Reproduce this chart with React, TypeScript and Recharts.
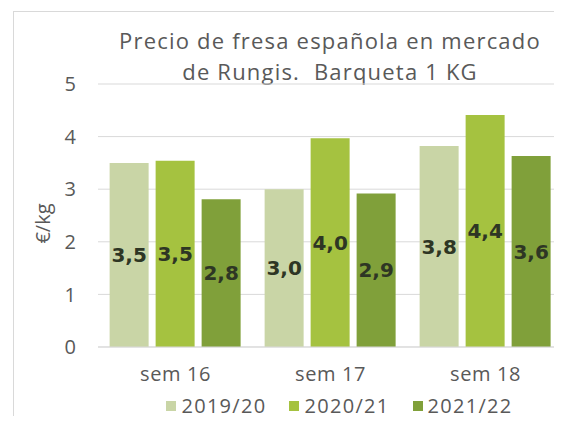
import React from 'react';
import { BarChart, Bar, XAxis, YAxis, CartesianGrid, Legend, LabelList, Label } from 'recharts';

const weeks = ['sem 16', 'sem 17', 'sem 18'];
const season1920 = [3.5, 3.0, 3.82];
const season2021 = [3.54, 3.97, 4.41];
const season2122 = [2.81, 2.92, 3.63];
const yTicks = [0, 1, 2, 3, 4, 5];

const seriesInfo = [
  { key: 's1920', name: '2019/20', color: '#c9d5a6' },
  { key: 's2021', name: '2020/21', color: '#a5c240' },
  { key: 's2122', name: '2021/22', color: '#80a03a' },
];

const FONT = '"Open Sans", sans-serif';
const GREY = '#595959';

const formatValue = (v: any) => Number(v).toFixed(1).replace('.', ',');

// legend drawn as simple row of squares + labels
const LegendRow = ({ payload }: any) => (
  <div
    style={{
      display: 'flex',
      justifyContent: 'center',
      paddingLeft: 116,
      fontFamily: FONT,
      fontSize: 20,
      letterSpacing: 1.3,
      color: GREY,
      lineHeight: '28px',
    }}
  >
    {(payload || []).map((entry: any, index: number) => (
      <span key={index} style={{ display: 'flex', alignItems: 'center', marginRight: index < 2 ? 23 : 0 }}>
        <span
          style={{ width: 10, height: 10, background: entry.color, display: 'inline-block', marginRight: 5 }}
        />
        {entry.value}
      </span>
    ))}
  </div>
);

export default function App() {
  const data = weeks.map((w, i) => ({
    week: w,
    s1920: season1920[i],
    s2021: season2021[i],
    s2122: season2122[i],
  }));

  return (
    <div style={{ margin: -8, position: 'relative', width: 562, height: 424, overflow: 'hidden', background: '#fff' }}>
      {/* chart frame */}
      <div
        style={{
          position: 'absolute',
          left: 13,
          top: 11,
          width: 600,
          height: 500,
          borderLeft: '1px solid #d9d9d9',
          borderTop: '1px solid #d9d9d9',
        }}
      />
      <div
        style={{
          position: 'absolute',
          left: 30,
          width: 600,
          top: 25,
          textAlign: 'center',
          fontFamily: FONT,
          fontSize: 22,
          letterSpacing: 1.2,
          lineHeight: '31px',
          color: GREY,
        }}
      >
        Precio de fresa española en mercado
        <br />
        de Rungis.&nbsp; Barqueta 1 KG
      </div>
      <div style={{ position: 'absolute', left: 0, top: 0 }}>
        <BarChart
          width={570}
          height={424}
          data={data}
          margin={{ top: 84, right: 7, bottom: 0, left: 0 }}
          barCategoryGap="7.5%"
          barGap={7}
        >
          <CartesianGrid vertical={false} stroke="#d9d9d9" />
          <XAxis
            dataKey="week"
            axisLine={{ stroke: '#d9d9d9' }}
            tickLine={false}
            tickMargin={14}
            height={45}
            tick={{ fill: GREY, fontSize: 20, fontFamily: FONT, letterSpacing: 0.6 }}
          />
          <YAxis
            domain={[0, 5]}
            ticks={yTicks}
            width={98}
            axisLine={false}
            tickLine={false}
            tickSize={0}
            tickMargin={22}
            tick={{ fill: GREY, fontSize: 20, fontFamily: FONT }}
          >
            <Label
              value="€/kg"
              angle={-90}
              position="insideLeft"
              offset={43}
              dy={8}
              style={{ fill: GREY, fontSize: 20, fontFamily: FONT, textAnchor: 'middle' }}
            />
          </YAxis>
          <Legend verticalAlign="bottom" height={32} content={<LegendRow />} />
          {seriesInfo.map((s) => (
            <Bar key={s.key} dataKey={s.key} name={s.name} fill={s.color} isAnimationActive={false}>
              <LabelList
                dataKey={s.key}
                position="center"
                formatter={formatValue}
                style={{ fill: '#2e3624', fontSize: 20, fontWeight: 'bold', fontFamily: '"DejaVu Sans", sans-serif' }}
              />
            </Bar>
          ))}
        </BarChart>
      </div>
    </div>
  );
}
